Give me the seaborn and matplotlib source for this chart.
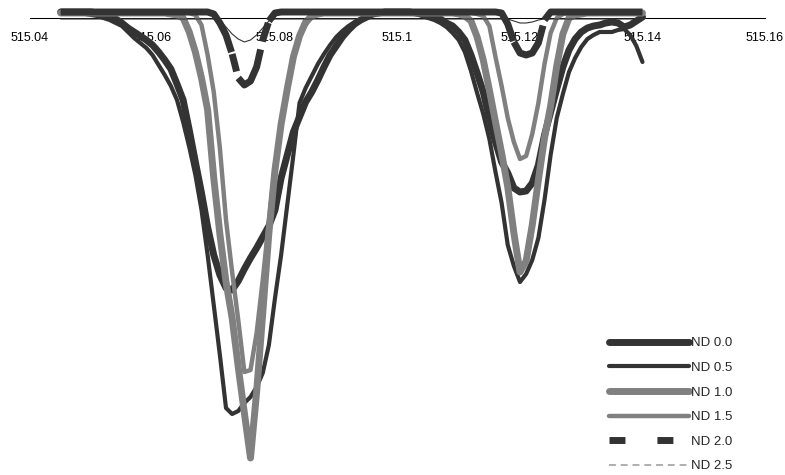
import numpy as np
import pandas as pd
import matplotlib
matplotlib.use("Agg")
import matplotlib.pyplot as plt
from matplotlib.lines import Line2D
from matplotlib.collections import LineCollection
import seaborn as sns

# Wavelength grid (nm), 1 pm sampling
wavelength = np.round(np.linspace(515.045, 515.140, 96), 3)

nd_00 = [
    0.015, 0.015, 0.015, 0.015, 0.015, 0.015, 0.0125, 0.01, 0.005, -0.0025,
    -0.0125, -0.025, -0.035, -0.045, -0.055, -0.0675, -0.085, -0.105, -0.1275, -0.165,
    -0.205, -0.28, -0.36, -0.4375, -0.5225, -0.5925, -0.6425, -0.675, -0.68, -0.6575,
    -0.6275, -0.6, -0.575, -0.5475, -0.52, -0.48, -0.4, -0.3425, -0.285, -0.2475,
    -0.21, -0.185, -0.155, -0.1225, -0.0925, -0.07, -0.0475, -0.03, -0.015, -0.005,
    0.0025, 0.01, 0.0125, 0.015, 0.015, 0.015, 0.015, 0.015, 0.0125, 0.01,
    0.0075, 0.0025, -0.0025, -0.0125, -0.02, -0.035, -0.055, -0.0925, -0.1375, -0.185,
    -0.25, -0.31, -0.36, -0.3875, -0.425, -0.435, -0.4325, -0.4125, -0.3675, -0.2925,
    -0.235, -0.1775, -0.1225, -0.08, -0.0525, -0.035, -0.025, -0.02, -0.0175, -0.0125,
    -0.01, -0.0125, -0.0225, -0.0175, -0.0075, 0.0025,
]

nd_05 = [
    0.0125, 0.0125, 0.0125, 0.0125, 0.01, 0.0075, 0.005, 0.0, -0.005, -0.0125,
    -0.02, -0.035, -0.05, -0.0625, -0.075, -0.0925, -0.1175, -0.1425, -0.17, -0.205,
    -0.26, -0.3225, -0.3925, -0.48, -0.5925, -0.7175, -0.8425, -0.975, -0.99, -0.9825,
    -0.9625, -0.9475, -0.9225, -0.8875, -0.8175, -0.7, -0.5925, -0.4675, -0.3425, -0.2125,
    -0.175, -0.145, -0.115, -0.09, -0.0675, -0.0475, -0.0325, -0.02, -0.01, -0.0025,
    0.005, 0.01, 0.0125, 0.0125, 0.0125, 0.0125, 0.0125, 0.01, 0.01, 0.005,
    0.0, -0.005, -0.0125, -0.0225, -0.0375, -0.055, -0.085, -0.1325, -0.1875, -0.24,
    -0.3025, -0.385, -0.4625, -0.5675, -0.62, -0.66, -0.64, -0.605, -0.55, -0.455,
    -0.3425, -0.25, -0.19, -0.135, -0.1, -0.0725, -0.0525, -0.0425, -0.035, -0.035,
    -0.035, -0.03, -0.0275, -0.0425, -0.07, -0.11,
]

nd_10 = [
    0.0125, 0.0125, 0.0125, 0.0125, 0.0125, 0.0125, 0.0125, 0.0125, 0.0125, 0.0125,
    0.0125, 0.0125, 0.0125, 0.0125, 0.0125, 0.0125, 0.0125, 0.0125, 0.01, 0.0075,
    0.0, -0.035, -0.085, -0.15, -0.23, -0.4, -0.54, -0.66, -0.75, -0.8725,
    -0.9875, -1.1, -0.935, -0.7375, -0.5375, -0.38, -0.265, -0.1775, -0.0975, -0.045,
    -0.01, 0.005, 0.01, 0.0125, 0.0125, 0.0125, 0.0125, 0.0125, 0.0125, 0.0125,
    0.0125, 0.0125, 0.0125, 0.0125, 0.0125, 0.0125, 0.0125, 0.0125, 0.0125, 0.0125,
    0.0125, 0.0125, 0.0125, 0.0125, 0.0125, 0.01, 0.005, -0.0075, -0.0475, -0.105,
    -0.18, -0.26, -0.3375, -0.4225, -0.5375, -0.635, -0.6075, -0.5175, -0.405, -0.3,
    -0.22, -0.12, -0.04, 0.0, 0.0075, 0.01, 0.0125, 0.0125, 0.0125, 0.0125,
    0.0125, 0.0125, 0.0125, 0.0125, 0.0125, 0.0125,
]

nd_15 = [
    0.0125, 0.0125, 0.0125, 0.0125, 0.0125, 0.0125, 0.0125, 0.0125, 0.0125, 0.0125,
    0.0125, 0.0125, 0.0125, 0.0125, 0.0125, 0.0125, 0.0125, 0.0125, 0.0125, 0.0125,
    0.0125, 0.0125, 0.0075, -0.0175, -0.0925, -0.185, -0.325, -0.505, -0.635, -0.755,
    -0.885, -0.88, -0.7875, -0.655, -0.5075, -0.3675, -0.2675, -0.18, -0.1, -0.0475,
    -0.0175, 0.0025, 0.01, 0.0125, 0.0125, 0.0125, 0.0125, 0.0125, 0.0125, 0.0125,
    0.0125, 0.0125, 0.0125, 0.0125, 0.0125, 0.0125, 0.0125, 0.0125, 0.0125, 0.0125,
    0.0125, 0.0125, 0.0125, 0.0125, 0.0125, 0.0125, 0.0125, 0.0125, 0.01, 0.005,
    -0.02, -0.0975, -0.17, -0.25, -0.31, -0.3525, -0.345, -0.29, -0.2125, -0.115,
    -0.0375, 0.0, 0.01, 0.0125, 0.0125, 0.0125, 0.0125, 0.0125, 0.0125, 0.0125,
    0.0125, 0.0125, 0.0125, 0.0125, 0.0125, 0.0125,
]

nd_20 = [
    0.015, 0.015, 0.015, 0.015, 0.015, 0.015, 0.015, 0.015, 0.015, 0.015,
    0.015, 0.015, 0.015, 0.015, 0.015, 0.015, 0.015, 0.015, 0.015, 0.015,
    0.015, 0.015, 0.015, 0.015, 0.015, 0.01, -0.0125, -0.0425, -0.09, -0.15,
    -0.1675, -0.1575, -0.1225, -0.055, -0.0075, 0.0125, 0.015, 0.015, 0.015, 0.015,
    0.015, 0.015, 0.015, 0.015, 0.015, 0.015, 0.015, 0.015, 0.015, 0.015,
    0.015, 0.015, 0.015, 0.015, 0.015, 0.015, 0.015, 0.015, 0.015, 0.015,
    0.015, 0.015, 0.015, 0.015, 0.015, 0.015, 0.015, 0.015, 0.015, 0.015,
    0.015, 0.015, 0.0125, -0.015, -0.06, -0.0875, -0.0925, -0.0875, -0.0625, -0.005,
    0.015, 0.015, 0.015, 0.015, 0.015, 0.015, 0.015, 0.015, 0.015, 0.015,
    0.015, 0.015, 0.015, 0.015, 0.015, 0.015,
]

nd_25 = [
    -0.0025, -0.0025, -0.0025, -0.0025, -0.0025, -0.0025, -0.0025, -0.0025, -0.0025, -0.0025,
    -0.0025, -0.0025, -0.0025, -0.0025, -0.0025, -0.0025, -0.0025, -0.0025, -0.0025, -0.0025,
    -0.0025, -0.0025, -0.0025, -0.0025, -0.0025, -0.0025, -0.005, -0.0225, -0.04, -0.0525,
    -0.06, -0.055, -0.0425, -0.025, -0.0075, -0.0025, -0.0025, -0.0025, -0.0025, -0.0025,
    -0.0025, -0.0025, -0.0025, -0.0025, -0.0025, -0.0025, -0.0025, -0.0025, -0.0025, -0.0025,
    -0.0025, -0.0025, -0.0025, -0.0025, -0.0025, -0.0025, -0.0025, -0.0025, -0.0025, -0.0025,
    -0.0025, -0.0025, -0.0025, -0.0025, -0.0025, -0.0025, -0.0025, -0.0025, -0.0025, -0.0025,
    -0.0025, -0.0025, -0.0025, -0.0025, -0.0075, -0.0125, -0.0125, -0.01, -0.005, -0.0025,
    -0.0025, -0.0025, -0.0025, -0.0025, -0.0025, -0.0025, -0.0025, -0.0025, -0.0025, -0.0025,
    -0.0025, -0.0025, -0.0025, -0.0025, -0.0025, -0.0025,
]

series_names = ["ND 0.0", "ND 0.5", "ND 1.0", "ND 1.5", "ND 2.0", "ND 2.5"]
series_values = [nd_00, nd_05, nd_10, nd_15, nd_20, nd_25]
tick_values = [515.04, 515.06, 515.08, 515.10, 515.12, 515.14, 515.16]
tick_labels = ["515.04", "515.06", "515.08", "515.1", "515.12", "515.14", "515.16"]

df = pd.concat(
    [pd.DataFrame({"wavelength": wavelength, "signal": vals, "filter": name})
     for name, vals in zip(series_names, series_values)],
    ignore_index=True,
)

DARK = "#333333"
GREY = "#808080"
line_styles = {
    "ND 0.0": dict(color=DARK, lw=5.0, dash_px=None),
    "ND 0.5": dict(color=DARK, lw=3.0, dash_px=None),
    "ND 1.0": dict(color=GREY, lw=5.0, dash_px=None),
    "ND 1.5": dict(color=GREY, lw=3.2, dash_px=None),
    "ND 2.0": dict(color=DARK, lw=5.0, dash_px=(18.0, 8.0)),
    "ND 2.5": dict(color=DARK, lw=0.8, dash_px=None),
}


def restarted_dash_runs(xy, trans, on_px, off_px):
    """Split a polyline into solid runs, restarting the dash pattern at every
    vertex (segments shorter than one dash stay solid)."""
    pts = trans.transform(xy)
    runs, current = [], [xy[0]]
    period = on_px + off_px
    for k in range(len(xy) - 1):
        p0, p1 = xy[k], xy[k + 1]
        length = np.hypot(*(pts[k + 1] - pts[k]))
        if length <= on_px:
            current.append(p1)
            continue
        start = 0.0
        while start < length:
            end = min(start + on_px, length)
            a = p0 + (p1 - p0) * (start / length)
            b = p0 + (p1 - p0) * (end / length)
            if start > 0.0:
                current = [a]
            current.append(b)
            if end < length:
                runs.append(np.array(current))
                current = []
            start += period
        if not current:
            current = [p1]
    if len(current) > 1:
        runs.append(np.array(current))
    return runs


sns.set_style("white")
plt.rcParams["font.family"] = ["Liberation Sans", "DejaVu Sans"]

fig = plt.figure(figsize=(7.85, 4.75), dpi=100)
ax = fig.add_axes([30 / 785, 0.0, 735 / 785, 1.0])
ax.set_xlim(515.04, 515.16)
ax.set_ylim(-1.1425, 0.045)

for name in series_names:
    st = line_styles[name]
    sub = df[df["filter"] == name]
    sns.lineplot(data=sub, x="wavelength", y="signal", ax=ax, color=st["color"],
                 linewidth=st["lw"], estimator=None, sort=False, legend=False)
    line = ax.lines[-1]
    line.set_solid_capstyle("round")
    line.set_solid_joinstyle("round")
    if st["dash_px"] is not None:
        ax.set_xlim(515.04, 515.16)
        ax.set_ylim(-1.1425, 0.045)
        runs = restarted_dash_runs(line.get_xydata(), ax.transData, *st["dash_px"])
        lc = LineCollection(runs, colors=st["color"], linewidths=st["lw"],
                            capstyle="butt", joinstyle="round",
                            zorder=line.get_zorder())
        ax.add_collection(lc)
        line.remove()

ax.set_xlim(515.04, 515.16)
ax.set_ylim(-1.1425, 0.045)

for side in ("top", "left", "right"):
    ax.spines[side].set_visible(False)
ax.spines["bottom"].set_position(("data", 0.0))
ax.spines["bottom"].set_color("#000000")
ax.spines["bottom"].set_linewidth(0.75)
ax.spines["bottom"].set_zorder(0.5)

ax.set_xticks(tick_values)
ax.set_xticklabels(tick_labels)
ax.tick_params(axis="x", direction="out", length=3, width=0.75, color="#000000",
               pad=7, labelsize=9, labelcolor="#000000")
ax.set_yticks([])
ax.set_xlabel("")
ax.set_ylabel("")
ax.grid(False)
ax.patch.set_alpha(0)

handles = [
    Line2D([], [], color=DARK, lw=5.0, solid_capstyle="round"),
    Line2D([], [], color=DARK, lw=3.0, solid_capstyle="round"),
    Line2D([], [], color=GREY, lw=5.0, solid_capstyle="round"),
    Line2D([], [], color=GREY, lw=3.2, solid_capstyle="round"),
    Line2D([], [], color=DARK, lw=5.0, dashes=(2.3, 4.6), dash_capstyle="butt"),
    Line2D([], [], color="#999999", lw=1.1, dashes=(4.5, 3.2), dash_capstyle="butt"),
]
fig.legend(handles, series_names, loc="upper left",
           bbox_to_anchor=(609 / 785, 1 - 337 / 475), frameon=False,
           fontsize=9.5, handlelength=6.1, handletextpad=0.12,
           labelspacing=0.94, borderpad=0.0, borderaxespad=0.0)

fig.savefig("out.png", dpi=100)
